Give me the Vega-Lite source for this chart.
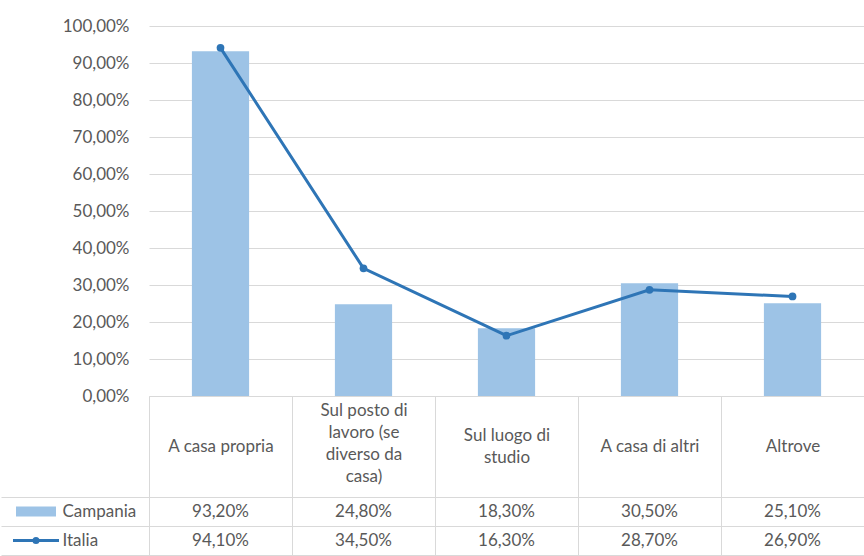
{
  "$schema": "https://vega.github.io/schema/vega-lite/v6.json",
  "background": "white",
  "padding": {"left": 0, "right": 0, "top": 17, "bottom": 0},
  "bounds": "flush",
  "spacing": 101,
  "config": {
    "locale": {"number": {"decimal": ",", "thousands": ".", "grouping": [3], "currency": ["€", ""]}},
    "view": {"stroke": null},
    "font": "Lato"
  },
  "datasets": {
    "valori": [
      {"luogo": "A casa propria", "serie": "Campania", "valore": 0.932},
      {"luogo": "Sul posto di lavoro (se diverso da casa)", "serie": "Campania", "valore": 0.248},
      {"luogo": "Sul luogo di studio", "serie": "Campania", "valore": 0.183},
      {"luogo": "A casa di altri", "serie": "Campania", "valore": 0.305},
      {"luogo": "Altrove", "serie": "Campania", "valore": 0.251},
      {"luogo": "A casa propria", "serie": "Italia", "valore": 0.941},
      {"luogo": "Sul posto di lavoro (se diverso da casa)", "serie": "Italia", "valore": 0.345},
      {"luogo": "Sul luogo di studio", "serie": "Italia", "valore": 0.163},
      {"luogo": "A casa di altri", "serie": "Italia", "valore": 0.287},
      {"luogo": "Altrove", "serie": "Italia", "valore": 0.269}
    ],
    "serie": [
      {"serie": "Campania"},
      {"serie": "Italia"}
    ]
  },
  "resolve": {"scale": {"x": "independent", "y": "independent"}},
  "vconcat": [
    {
      "width": 715,
      "height": 370,
      "data": {"name": "valori"},
      "encoding": {
        "x": {
          "field": "luogo",
          "type": "nominal",
          "scale": {
            "domain": ["A casa propria", "Sul posto di lavoro (se diverso da casa)", "Sul luogo di studio", "A casa di altri", "Altrove"],
            "paddingInner": 0,
            "paddingOuter": 0
          },
          "axis": {
            "title": null,
            "labelAngle": 0,
            "labelBaseline": "middle",
            "labelPadding": {
              "condition": [
                {"test": "datum.value == 'Sul posto di lavoro (se diverso da casa)'", "value": -87},
                {"test": "datum.value == 'Sul luogo di studio'", "value": -62}
              ],
              "value": -51
            },
            "labelLineHeight": 22,
            "labelFontSize": 17,
            "labelColor": "#595959",
            "labelFont": "Lato",
            "labelExpr": "datum.value == 'Sul posto di lavoro (se diverso da casa)' ? ['Sul posto di', 'lavoro (se', 'diverso da', 'casa)'] : datum.value == 'Sul luogo di studio' ? ['Sul luogo di', 'studio'] : datum.value",
            "tickBand": "extent",
            "tickSize": 101,
            "tickColor": "#D9D9D9",
            "domainColor": "#D9D9D9",
            "grid": false
          }
        },
        "y": {
          "field": "valore",
          "type": "quantitative",
          "scale": {"domain": [0, 1], "nice": false},
          "axis": {
            "title": null,
            "format": ".2%",
            "values": [0, 0.1, 0.2, 0.3, 0.4, 0.5, 0.6, 0.7, 0.8, 0.9, 1],
            "labelOverlap": false,
            "grid": true,
            "gridColor": "#D9D9D9",
            "domain": false,
            "ticks": false,
            "labelPadding": 20,
            "labelFontSize": 17,
            "labelColor": "#595959",
            "labelFont": "Lato"
          }
        }
      },
      "layer": [
        {
          "transform": [{"filter": "datum.serie === 'Campania'"}],
          "mark": {"type": "bar", "color": "#9DC3E6", "width": {"band": 0.4}}
        },
        {
          "transform": [{"filter": "datum.serie === 'Italia'"}],
          "mark": {
            "type": "line",
            "color": "#2E75B6",
            "strokeWidth": 3,
            "point": {"filled": true, "size": 60, "color": "#2E75B6", "opacity": 1}
          }
        }
      ]
    },
    {
      "width": 715,
      "height": 58,
      "encoding": {
        "y": {
          "field": "serie",
          "type": "nominal",
          "scale": {"domain": ["Campania", "Italia"], "paddingInner": 0, "paddingOuter": 0},
          "axis": {
            "title": null,
            "labels": false,
            "domain": false,
            "grid": true,
            "gridColor": "#D9D9D9",
            "ticks": true,
            "tickBand": "extent",
            "tickSize": 148,
            "tickColor": "#D9D9D9"
          }
        }
      },
      "layer": [
        {
          "data": {"name": "valori"},
          "mark": {"type": "text", "fontSize": 17, "color": "#595959", "font": "Lato"},
          "encoding": {
            "x": {
              "field": "luogo",
              "type": "nominal",
              "scale": {
                "domain": ["Legenda", "A casa propria", "Sul posto di lavoro (se diverso da casa)", "Sul luogo di studio", "A casa di altri", "Altrove"],
                "range": [-143, 715],
                "paddingInner": 0,
                "paddingOuter": 0
              },
              "axis": {
                "title": null,
                "orient": "top",
                "values": ["A casa propria", "Sul posto di lavoro (se diverso da casa)", "Sul luogo di studio", "A casa di altri", "Altrove"],
                "labels": false,
                "ticks": false,
                "domain": false,
                "grid": true,
                "gridColor": "#D9D9D9",
                "tickBand": "extent"
              }
            },
            "text": {"field": "valore", "type": "quantitative", "format": ".2%"}
          }
        },
        {
          "data": {"name": "serie"},
          "mark": {"type": "text", "fontSize": 17, "color": "#595959", "font": "Lato", "align": "left", "dx": -15},
          "encoding": {
            "x": {"datum": "Legenda", "type": "nominal"},
            "text": {"field": "serie", "type": "nominal"}
          }
        },
        {
          "data": {"name": "serie"},
          "transform": [{"filter": "datum.serie === 'Campania'"}],
          "mark": {"type": "point", "shape": "M-1,-0.25H1V0.25H-1Z", "size": 1600, "filled": true, "color": "#9DC3E6", "opacity": 1},
          "encoding": {
            "x": {"datum": "Legenda", "type": "nominal"},
            "xOffset": {"value": 30}
          }
        },
        {
          "data": {"name": "serie"},
          "transform": [{"filter": "datum.serie === 'Italia'"}],
          "mark": {"type": "point", "shape": "M-1,0H1", "size": 2116, "filled": false, "color": "#2E75B6", "strokeWidth": 3, "opacity": 1},
          "encoding": {
            "x": {"datum": "Legenda", "type": "nominal"},
            "xOffset": {"value": 30}
          }
        },
        {
          "data": {"name": "serie"},
          "transform": [{"filter": "datum.serie === 'Italia'"}],
          "mark": {"type": "point", "shape": "circle", "size": 50, "filled": true, "color": "#2E75B6", "opacity": 1},
          "encoding": {
            "x": {"datum": "Legenda", "type": "nominal"},
            "xOffset": {"value": 30}
          }
        }
      ]
    }
  ]
}
